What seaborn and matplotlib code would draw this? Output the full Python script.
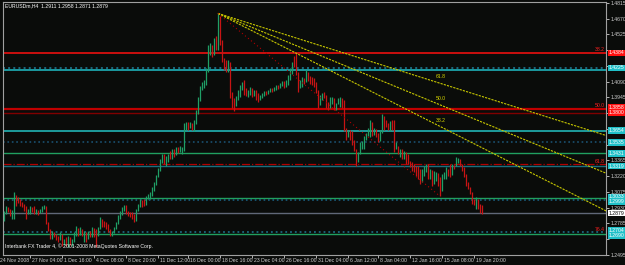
import matplotlib
matplotlib.use("Agg")
import matplotlib.pyplot as plt
import matplotlib.transforms as mtransforms
from matplotlib import font_manager as fm
import seaborn as sns
import numpy as np
import pandas as pd

# ---------------- data ----------------
first_open = 1.2825
highs = [
    1.2898, 1.2944, 1.2935, 1.2916, 1.2907, 1.3072, 1.3045, 1.3026, 1.3008, 1.2981,
    1.2962, 1.2944, 1.2916, 1.2944, 1.2935, 1.2944, 1.2916, 1.2907, 1.2916, 1.2944,
    1.2953, 1.2944, 1.2797, 1.2733, 1.2715, 1.2705, 1.2687, 1.2669, 1.2705, 1.2687,
    1.2641, 1.2660, 1.2669, 1.2660, 1.2641, 1.2705, 1.2760, 1.2742, 1.2751, 1.2733,
    1.2715, 1.2705, 1.2715, 1.2715, 1.2751, 1.2742, 1.2733, 1.2751, 1.2843, 1.2825,
    1.2806, 1.2797, 1.2779, 1.2733, 1.2715, 1.2751, 1.2797, 1.2861, 1.2898, 1.2935,
    1.2953, 1.2953, 1.2898, 1.2889, 1.2889, 1.2871, 1.2916, 1.2962, 1.3008, 1.2990,
    1.3008, 1.3036, 1.3054, 1.3072, 1.3118, 1.3164, 1.3228, 1.3292, 1.3375, 1.3421,
    1.3421, 1.3402, 1.3421, 1.3448, 1.3467, 1.3467, 1.3485, 1.3485, 1.3494, 1.3485,
    1.3714, 1.3723, 1.3723, 1.3723, 1.3714, 1.3742, 1.3833, 1.3953, 1.4053, 1.4090,
    1.4108, 1.4218, 1.4429, 1.4448, 1.4429, 1.4494, 1.4512, 1.4719, 1.4695, 1.4475,
    1.4310, 1.4292, 1.4292, 1.4273, 1.3998, 1.3943, 1.3962, 1.4017, 1.4063, 1.4090,
    1.4108, 1.4035, 1.4017, 1.4044, 1.4035, 1.4017, 1.4017, 1.3989, 1.3971, 1.3989,
    1.4008, 1.4008, 1.4017, 1.4035, 1.4035, 1.4044, 1.4063, 1.4063, 1.4081, 1.4099,
    1.4099, 1.4108, 1.4154, 1.4218, 1.4273, 1.4328, 1.4356, 1.4182, 1.4108, 1.4136,
    1.4127, 1.4200, 1.4163, 1.4145, 1.4136, 1.4127, 1.4090, 1.4017, 1.3971, 1.3989,
    1.3998, 1.3971, 1.3907, 1.3953, 1.3953, 1.3925, 1.3897, 1.3943, 1.3953, 1.3943,
    1.3925, 1.3668, 1.3650, 1.3650, 1.3632, 1.3558, 1.3467, 1.3439, 1.3531, 1.3540,
    1.3586, 1.3622, 1.3668, 1.3742, 1.3687, 1.3668, 1.3650, 1.3622, 1.3650, 1.3797,
    1.3760, 1.3742, 1.3714, 1.3732, 1.3742, 1.3742, 1.3531, 1.3494, 1.3467, 1.3467,
    1.3448, 1.3439, 1.3421, 1.3357, 1.3347, 1.3329, 1.3311, 1.3311, 1.3283, 1.3283,
    1.3311, 1.3329, 1.3329, 1.3283, 1.3265, 1.3265, 1.3256, 1.3237, 1.3210, 1.3237,
    1.3256, 1.3302, 1.3283, 1.3329, 1.3329, 1.3320, 1.3393, 1.3384, 1.3375, 1.3329,
    1.3302, 1.3237, 1.3164, 1.3118, 1.3054, 1.3008, 1.3026, 1.3008, 1.2962, 1.2958,
]
lows = [
    1.2806, 1.2871, 1.2889, 1.2852, 1.2825, 1.2825, 1.2944, 1.2971, 1.2944, 1.2935,
    1.2898, 1.2825, 1.2871, 1.2871, 1.2889, 1.2871, 1.2871, 1.2861, 1.2880, 1.2889,
    1.2916, 1.2779, 1.2715, 1.2641, 1.2641, 1.2660, 1.2632, 1.2614, 1.2632, 1.2577,
    1.2586, 1.2577, 1.2568, 1.2586, 1.2577, 1.2614, 1.2669, 1.2669, 1.2678, 1.2669,
    1.2614, 1.2614, 1.2641, 1.2660, 1.2660, 1.2660, 1.2568, 1.2669, 1.2733, 1.2751,
    1.2751, 1.2733, 1.2705, 1.2669, 1.2669, 1.2696, 1.2733, 1.2779, 1.2825, 1.2861,
    1.2898, 1.2871, 1.2852, 1.2843, 1.2825, 1.2797, 1.2806, 1.2898, 1.2935, 1.2935,
    1.2944, 1.2962, 1.3008, 1.3008, 1.3036, 1.3081, 1.3136, 1.3210, 1.3265, 1.3338,
    1.3329, 1.3311, 1.3347, 1.3375, 1.3375, 1.3393, 1.3412, 1.3430, 1.3439, 1.3421,
    1.3448, 1.3650, 1.3650, 1.3668, 1.3650, 1.3641, 1.3705, 1.3797, 1.3916, 1.4017,
    1.4035, 1.4063, 1.4182, 1.4338, 1.4319, 1.4338, 1.4384, 1.4384, 1.4429, 1.4273,
    1.4200, 1.4182, 1.4182, 1.3943, 1.3852, 1.3824, 1.3870, 1.3925, 1.3953, 1.4017,
    1.3971, 1.3962, 1.3953, 1.3971, 1.3953, 1.3962, 1.3925, 1.3907, 1.3925, 1.3943,
    1.3962, 1.3971, 1.3980, 1.3998, 1.3998, 1.4008, 1.4017, 1.4026, 1.4035, 1.4053,
    1.4035, 1.4044, 1.4063, 1.4108, 1.4163, 1.4228, 1.4154, 1.3998, 1.4035, 1.4044,
    1.4072, 1.4090, 1.4099, 1.4072, 1.4063, 1.4044, 1.3989, 1.3852, 1.3897, 1.3925,
    1.3943, 1.3852, 1.3833, 1.3861, 1.3888, 1.3833, 1.3833, 1.3888, 1.3861, 1.3852,
    1.3632, 1.3558, 1.3586, 1.3558, 1.3512, 1.3448, 1.3311, 1.3347, 1.3421, 1.3467,
    1.3467, 1.3558, 1.3586, 1.3577, 1.3586, 1.3604, 1.3577, 1.3531, 1.3558, 1.3622,
    1.3650, 1.3677, 1.3650, 1.3641, 1.3650, 1.3439, 1.3467, 1.3421, 1.3393, 1.3375,
    1.3375, 1.3329, 1.3329, 1.3302, 1.3265, 1.3256, 1.3219, 1.3191, 1.3146, 1.3173,
    1.3219, 1.3256, 1.3191, 1.3191, 1.3127, 1.3164, 1.3173, 1.3127, 1.3036, 1.3100,
    1.3191, 1.3191, 1.3219, 1.3210, 1.3256, 1.3283, 1.3311, 1.3338, 1.3311, 1.3265,
    1.3210, 1.3127, 1.3100, 1.3054, 1.2962, 1.2953, 1.2916, 1.2916, 1.2880, 1.2871,
]
closes = [
    1.2880, 1.2935, 1.2898, 1.2861, 1.2880, 1.3036, 1.3008, 1.2990, 1.2953, 1.2944,
    1.2907, 1.2880, 1.2889, 1.2935, 1.2898, 1.2889, 1.2898, 1.2889, 1.2907, 1.2935,
    1.2944, 1.2797, 1.2733, 1.2678, 1.2696, 1.2678, 1.2650, 1.2632, 1.2687, 1.2605,
    1.2614, 1.2605, 1.2650, 1.2605, 1.2623, 1.2687, 1.2742, 1.2687, 1.2705, 1.2687,
    1.2696, 1.2641, 1.2705, 1.2696, 1.2742, 1.2724, 1.2678, 1.2742, 1.2825, 1.2779,
    1.2770, 1.2742, 1.2715, 1.2687, 1.2705, 1.2742, 1.2788, 1.2852, 1.2889, 1.2926,
    1.2944, 1.2880, 1.2861, 1.2852, 1.2834, 1.2806, 1.2907, 1.2953, 1.2999, 1.2981,
    1.2953, 1.3026, 1.3045, 1.3063, 1.3109, 1.3155, 1.3219, 1.3283, 1.3357, 1.3402,
    1.3347, 1.3375, 1.3402, 1.3393, 1.3448, 1.3421, 1.3467, 1.3448, 1.3457, 1.3467,
    1.3696, 1.3705, 1.3668, 1.3677, 1.3659, 1.3723, 1.3815, 1.3934, 1.4035, 1.4053,
    1.4081, 1.4200, 1.4411, 1.4420, 1.4347, 1.4466, 1.4420, 1.4686, 1.4457, 1.4292,
    1.4246, 1.4218, 1.4237, 1.3971, 1.3888, 1.3870, 1.3943, 1.3998, 1.4044, 1.4072,
    1.3998, 1.3980, 1.4008, 1.4026, 1.3971, 1.4008, 1.3943, 1.3925, 1.3962, 1.3980,
    1.3998, 1.3989, 1.4008, 1.4026, 1.4017, 1.4035, 1.4053, 1.4044, 1.4072, 1.4090,
    1.4044, 1.4099, 1.4145, 1.4200, 1.4264, 1.4255, 1.4182, 1.4035, 1.4053, 1.4118,
    1.4090, 1.4182, 1.4118, 1.4081, 1.4072, 1.4053, 1.3998, 1.3879, 1.3953, 1.3980,
    1.3962, 1.3870, 1.3852, 1.3934, 1.3943, 1.3852, 1.3888, 1.3934, 1.3943, 1.3870,
    1.3650, 1.3577, 1.3632, 1.3577, 1.3531, 1.3467, 1.3357, 1.3430, 1.3512, 1.3531,
    1.3567, 1.3613, 1.3659, 1.3723, 1.3613, 1.3659, 1.3586, 1.3549, 1.3632, 1.3778,
    1.3742, 1.3696, 1.3659, 1.3723, 1.3668, 1.3467, 1.3485, 1.3439, 1.3448, 1.3402,
    1.3430, 1.3421, 1.3347, 1.3311, 1.3283, 1.3265, 1.3237, 1.3210, 1.3164, 1.3265,
    1.3302, 1.3320, 1.3210, 1.3274, 1.3146, 1.3191, 1.3246, 1.3146, 1.3081, 1.3219,
    1.3246, 1.3283, 1.3274, 1.3228, 1.3320, 1.3311, 1.3375, 1.3375, 1.3329, 1.3283,
    1.3228, 1.3146, 1.3118, 1.3072, 1.2990, 1.2981, 1.3008, 1.2935, 1.2911, 1.2879,
]

price_ticks = [1.4815, 1.4670, 1.4525, 1.4380, 1.4235, 1.4090, 1.3945, 1.3800, 1.3655,
               1.3510, 1.3365, 1.3220, 1.3075, 1.2930, 1.2785, 1.2640, 1.2495]
# tick labels that the price boxes cover in the reference are left blank
price_tick_labels = ["1.4815", "1.4670", "1.4525", "", "", "1.4090", "1.3945", "", "",
                     "", "1.3365", "1.3220", "1.3075", "1.2930", "1.2785", "", "1.2495"]
time_tick_bars = [13, 29, 45, 61, 77, 92, 108, 124, 140, 156, 172, 187, 203, 219, 235]
time_tick_labels = ["27 Nov 04:00", "1 Dec 16:00", "4 Dec 08:00", "8 Dec 20:00",
                    "11 Dec 12:00", "16 Dec 00:00", "18 Dec 16:00", "23 Dec 04:00",
                    "26 Dec 16:00", "31 Dec 04:00", "6 Jan 12:00", "8 Jan 04:00",
                    "12 Jan 16:00", "15 Jan 08:00", "19 Jan 20:00"]
first_date_label = "24 Nov 2008"

# horizontal levels: price, colour, style
hl_prices = [1.4356, 1.4218, 1.4200, 1.3842, 1.3806, 1.3641, 1.3531, 1.3430,
             1.3329, 1.3311, 1.3017, 1.2999, 1.2705, 1.2687]
hl_colors = ["#ff1010", "#1a6a80", "#20c0c8", "#c00000", "#800000", "#20a8a8",
             "#1a5070", "#20a060", "#b00000", "#1a7080", "#20a060", "#1a6080",
             "#1a6a80", "#20a060"]
hl_styles = ["-", ":", "-", "-", "-", "-", ":", "-", "-.", "-", "-", ":", ":", "-"]
hl_widths = [1.1, 1.4, 1.1, 1.6, 1.0, 1.3, 1.2, 1.0, 0.9, 1.0, 1.0, 1.2, 1.3, 1.0]

fib_level_prices = [1.4356, 1.3842, 1.3329, 1.2696]
fib_level_labels = ["38.2", "50.0", "61.8", "76.4"]

fan_start_bar, fan_start_price = 107, 1.4719
fan_end_bar, fan_end_price = 218, 1.3036
fan_levels = [0.618, 0.5, 0.382]
fan_labels = ["61.8", "50.0", "38.2"]

box_prices = [1.4356, 1.4218, 1.3852, 1.3803, 1.3641, 1.3531, 1.3430, 1.3311,
              1.3032, 1.2984, 1.2721, 1.2673]
box_texts = ["1.4384", "1.4225", "1.3858", "1.3800", "1.3654", "1.3535", "1.3431",
             "1.3319", "1.3033", "1.2999", "1.2704", "1.2690"]
box_colors = ["#ff1010", "#20c0c8", "#ff1010", "#ff1010", "#20c0c8", "#20c0c8",
              "#20c0c8", "#20c0c8", "#20c0c8", "#20c0c8", "#20c0c8", "#20c0c8"]
bid_price = 1.2879

header = "EURUSDm,H4  1.2911 1.2958 1.2871 1.2879"
footer = "Interbank FX Trader 4, \u00a9 2001-2008 MetaQuotes Software Corp."

# ---------------- styling ----------------
BG = "#0a0c0a"
sns.set_style("dark", {"axes.facecolor": BG, "figure.facecolor": BG,
                       "axes.edgecolor": "#a0a0a0", "axes.grid": False})
avail = {f.name for f in fm.fontManager.ttflist}
if "Liberation Sans Narrow" in avail:
    FONT = ["Liberation Sans Narrow", "DejaVu Sans"]
    FS = 4.2
else:
    FONT = ["Liberation Sans", "DejaVu Sans"]
    FS = 3.7
plt.rcParams["font.family"] = FONT

df = pd.DataFrame({"bar": np.arange(len(closes)), "high": highs, "low": lows, "close": closes})
df["open"] = [first_open] + closes[:-1]
df["hi"] = df[["high", "open", "close"]].max(axis=1)
df["lo"] = df[["low", "open", "close"]].min(axis=1)
df["dir"] = np.where(df["close"] >= df["open"], "up", "down")

fig = plt.figure(figsize=(6.25, 2.65), dpi=100)
fig.patch.set_facecolor(BG)
ax = fig.add_axes([3 / 625, 10 / 265, 603 / 625, 253 / 265])
ax.set_facecolor(BG)

# horizontal lines
for p, c, s, w in zip(hl_prices, hl_colors, hl_styles, hl_widths):
    ax.axhline(p, color=c, linestyle=s, linewidth=w, zorder=1)
ax.axhline(bid_price, color="#606878", linewidth=1.0, zorder=1)

# candles
col = {"up": "#1f9f66", "down": "#c81414"}
for d, g in df.groupby("dir"):
    ax.vlines(g["bar"], g["lo"], g["hi"], colors=col[d], linewidth=0.9, zorder=3)

# fib fan
hi_lo = fan_start_price - fan_end_price
xr = np.array([fan_start_bar, 305])
for f in fan_levels:
    p_end = fan_end_price + f * hi_lo
    slope = (p_end - fan_start_price) / (fan_end_bar - fan_start_bar)
    sns.lineplot(x=xr, y=fan_start_price + slope * (xr - fan_start_bar), ax=ax,
                 color="#c8c800", linewidth=0.8, linestyle=(0, (2, 1)), zorder=4)
for f, lab in zip(fan_levels, fan_labels):
    p_end = fan_end_price + f * hi_lo
    ax.text(fan_end_bar - 2, p_end + 0.0035, lab, color="#d8d800", fontsize=FS,
            ha="left", va="bottom", zorder=5)
ax.plot([fan_start_bar, fan_end_bar], [fan_start_price, fan_end_price],
        color="#b00000", linewidth=0.8, linestyle=(0, (1, 2.5)), zorder=4)

# fib retracement labels at the right
for p, lab in zip(fib_level_prices, fib_level_labels):
    ax.text(300.5, p + 0.0008, lab, color="#ff2020", fontsize=FS, ha="right", va="bottom", zorder=5)

ax.set_xlim(-0.5, 301)
ax.set_ylim(1.2503, 1.4824)

# right axis
ax.yaxis.tick_right()
ax.set_yticks(price_ticks)
ax.set_yticklabels(price_tick_labels)
ax.tick_params(axis="y", colors="#d0d0d0", labelsize=FS, length=2, width=0.6, pad=1.2,
               direction="out", right=True, left=False)
ax.set_xticks(time_tick_bars)
ax.set_xticklabels(time_tick_labels, ha="left")
ax.tick_params(axis="x", colors="#d0d0d0", labelsize=FS, length=2, width=0.6, pad=0.3,
               direction="out", bottom=True)
offset = mtransforms.ScaledTranslation(1.5 / 100, 0, fig.dpi_scale_trans)
for lab in ax.get_xticklabels():
    lab.set_transform(lab.get_transform() + offset)
ax.text(-2.0, -0.010, first_date_label,
        transform=mtransforms.blended_transform_factory(ax.transData, ax.transAxes),
        color="#d0d0d0", fontsize=FS, ha="left", va="top", clip_on=False)

for sp in ax.spines.values():
    sp.set_color("#a0a0a0")
    sp.set_linewidth(0.8)

# price boxes on the right axis
bt = mtransforms.blended_transform_factory(ax.transAxes, ax.transData)
for p, t, c in zip(box_prices, box_texts, box_colors):
    ax.text(1.004, p, t, transform=bt, fontsize=FS, color="white", ha="left", va="center",
            bbox=dict(boxstyle="square,pad=0.12", fc=c, ec="none"), clip_on=False, zorder=6)
ax.text(1.004, bid_price, f"{bid_price:.4f}", transform=bt, fontsize=FS, color="black",
        ha="left", va="center", bbox=dict(boxstyle="square,pad=0.12", fc="white", ec="none"),
        clip_on=False, zorder=6)

ax.text(0.004, 0.993, header, transform=ax.transAxes, color="white", fontsize=FS,
        ha="left", va="top")
ax.text(0.004, 0.025, footer, transform=ax.transAxes, color="white", fontsize=FS,
        ha="left", va="bottom")
ax.set_xlabel("")
ax.set_ylabel("")
if ax.get_legend():
    ax.get_legend().remove()

fig.savefig("out.png", dpi=100, facecolor=BG)
